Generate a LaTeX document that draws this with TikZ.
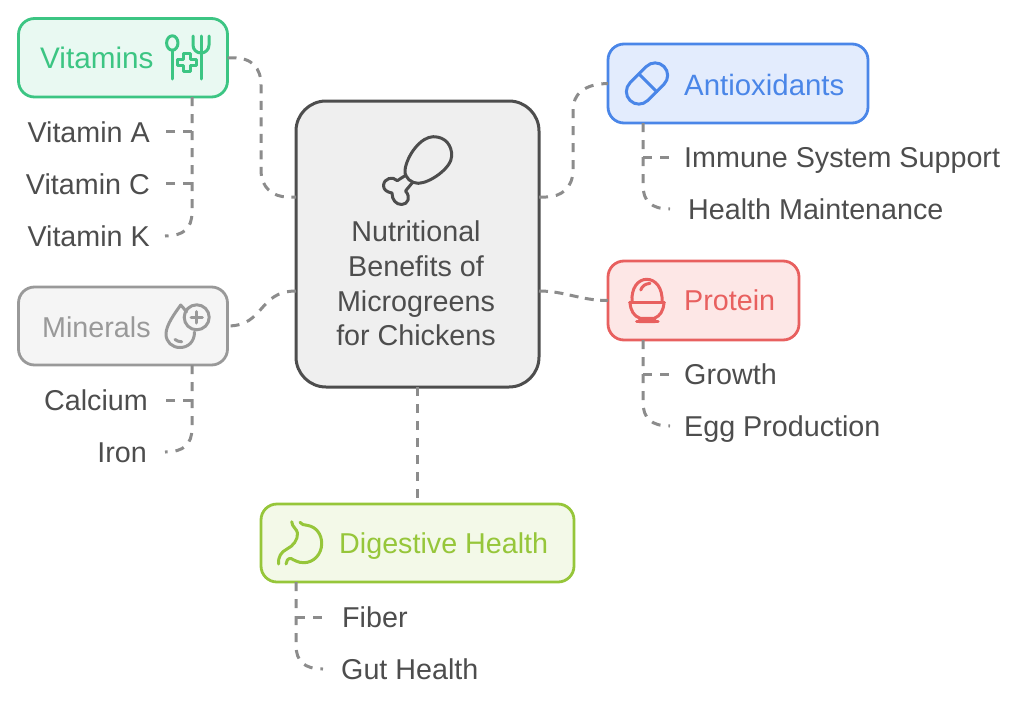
\documentclass[tikz,border=0pt]{standalone}
\usepackage{fontspec}
\setmainfont{Liberation Sans}
\definecolor{txt}{HTML}{4D4D4D}
\definecolor{conn}{HTML}{8C8C8C}
\definecolor{gS}{HTML}{3CC583}\definecolor{gF}{HTML}{E9F9F2}
\definecolor{bS}{HTML}{4A86E8}\definecolor{bF}{HTML}{E3ECFD}
\definecolor{rS}{HTML}{E8605F}\definecolor{rF}{HTML}{FDE7E6}
\definecolor{yS}{HTML}{96C63A}\definecolor{yF}{HTML}{F3F9E8}
\definecolor{mS}{HTML}{999999}\definecolor{mF}{HTML}{F5F5F5}
\definecolor{cS}{HTML}{4D4D4D}\definecolor{cF}{HTML}{EFEFEF}
\tikzset{
 card/.style={draw,line width=2.8pt,rounded corners=16pt,inner sep=0pt,outer sep=0pt,anchor=north west},
 lab/.style={font=\fontsize{28.7}{28.7}\selectfont,inner sep=0pt,text=txt},
 leafR/.style={lab,anchor=base east},
 leafL/.style={lab,anchor=base west},
 head/.style={font=\fontsize{28.7}{28.7}\selectfont,inner sep=0pt,anchor=base west},
 link/.style={draw=conn,line width=3pt,dash pattern=on 9pt off 8pt},
 icon/.style={line width=3pt,line cap=round,line join=round},
}
\begin{document}
\begin{tikzpicture}[x=1pt,y=-1pt]
\useasboundingbox (0,0) rectangle (1024,704);
\node[card,draw=cS,fill=cF,line width=3pt,rounded corners=30pt,minimum width=243pt,minimum height=286pt] (center) at (296,101) {};
\node[card,draw=gS,fill=gF,minimum width=209pt,minimum height=78.5pt] (vit) at (18.5,18.5) {};
\node[card,draw=bS,fill=bF,minimum width=260pt,minimum height=79pt] (ant) at (608,44) {};
\node[card,draw=rS,fill=rF,minimum width=191pt,minimum height=79pt] (pro) at (608,261) {};
\node[card,draw=mS,fill=mF,minimum width=209pt,minimum height=78pt] (min) at (18.5,287) {};
\node[card,draw=yS,fill=yF,minimum width=313pt,minimum height=78pt] (dig) at (261,504) {};
% main links
\coordinate (cL1) at (center.west|-0,197);
\coordinate (cL2) at (center.west|-0,291);
\coordinate (cR1) at (center.east|-0,197);
\coordinate (cR2) at (center.east|-0,291);
\path[link,dash pattern=on 9pt off 7.5pt] (vit.east) -- ++(5,0) .. controls (252,57.5) and (261,68) .. (261,85) -- (261,170) .. controls (261,187) and (272,197) .. (288,197) -- (cL1);
\path[link] (cR1) -- (546,197) .. controls (562,197) and (573,187) .. (573,170) -- (573,110) .. controls (573,94) and (584,84) .. (ant.west);
\path[link,dash pattern=on 9pt off 6.5pt] (cR2) .. controls (565,291) and (580,300.5) .. (pro.west);
\path[link] (cL2) .. controls (258,291) and (265,326) .. (min.east);
\path[link] (center.south) -- (center.south|-dig.north);
% leaves
\node[leafR] (va) at (150,142) {Vitamin A};
\node[leafR] (vc) at (150,194) {Vitamin C};
\node[leafR] (vk) at (150,246) {Vitamin K};
\node[leafR] (ca) at (148,410) {Calcium};
\node[leafR] (ir) at (147,462) {Iron};
\node[leafL] (im) at (684,167) {Immune System Support};
\node[leafL] (hm) at (688,219) {Health Maintenance};
\node[leafL] (gr) at (684,384) {Growth};
\node[leafL] (eg) at (684,436) {Egg Production};
\node[leafL] (fi) at (342,627) {Fiber};
\node[leafL] (gu) at (341,679) {Gut Health};
% leaf link ends
\coordinate (vtop) at (192,97); \coordinate (mtop) at (192,365);
\coordinate (atop) at (643,123); \coordinate (ptop) at (643,340); \coordinate (dtop) at (296,582);
\coordinate (vaE) at (165,131); \coordinate (vcE) at (165,183); \coordinate (vkE) at (165,236);
\coordinate (caE) at (165,400); \coordinate (irE) at (165,452);
\coordinate (imE) at (670,157); \coordinate (hmE) at (670,209);
\coordinate (grE) at (670,374); \coordinate (egE) at (670,426);
\coordinate (fiE) at (323,617); \coordinate (guE) at (323,669);
\path[link] (vtop) -- (192,212) .. controls (192,228) and (184,236) .. (vkE);
\draw[link] (192,131) -- (vaE);
\draw[link] (192,183) -- (vcE);
\path[link] (mtop) -- (192,428) .. controls (192,444) and (184,452) .. (irE);
\draw[link] (192,400) -- (caE);
\path[link] (atop) -- (643,185) .. controls (643,201) and (651,209) .. (hmE);
\draw[link] (643,157) -- (imE);
\path[link] (ptop) -- (643,402) .. controls (643,418) and (651,426) .. (egE);
\draw[link] (643,374) -- (grE);
\path[link] (dtop) -- (296,645) .. controls (296,661) and (304,669) .. (guE);
\draw[link] (296,617) -- (fiE);
% headings
\node[head,text=gS,font=\fontsize{29.7}{29.7}\selectfont] (tv) at (40,68) {Vitamins};
\node[head,text=bS,font=\fontsize{29.4}{29.4}\selectfont] (ta) at (684,95) {Antioxidants};
\node[head,text=rS] (tp) at (684,310) {Protein};
\node[head,text=mS] (tm) at (42,337) {Minerals};
\node[head,text=yS] (td) at (339,553) {Digestive Health};
\node[lab,anchor=base] (t1) at (416,241) {Nutritional};
\node[lab,anchor=base] (t2) at (416,276) {Benefits of};
\node[lab,anchor=base] (t3) at (416,311) {Microgreens};
\node[lab,anchor=base] (t4) at (416,345) {for Chickens};
% icons
\begin{scope}[icon,draw=gS]
 \draw (172.3,43) ellipse (5.7 and 7.2);
 \draw (172.3,50.2) -- (172.3,79);
 \draw (201,36) -- (201,79);
 \draw (193,36) -- (193,45) .. controls (193,50) and (197,53) .. (201,53) .. controls (205,53) and (209,50) .. (209,45) -- (209,36);
 \draw (183,53.5) -- (190,53.5) -- (190,59.5) -- (196.5,59.5) -- (196.5,65.5) -- (190,65.5) -- (190,71.5) -- (183,71.5) -- (183,65.5) -- (177,65.5) -- (177,59.5) -- (183,59.5) -- cycle;
\end{scope}
\begin{scope}[icon,draw=bS]
 \node[draw=bS,line width=3pt,rotate=45,minimum width=48pt,minimum height=25pt,rounded corners=12.5pt,inner sep=0pt,outer sep=0pt] (pill) at (647,83.5) {};
 \draw (640,75) -- (656.7,91.7);
\end{scope}
\begin{scope}[icon,draw=rS]
 \draw (632,302) .. controls (631,288) and (638,279.3) .. (646.7,279.3) .. controls (655.5,279.3) and (663,288) .. (662,302);
 \draw (640.7,290) .. controls (642,286) and (645,284) .. (650,283.3);
 \draw (629.5,302.3) -- (664.3,302.3);
 \draw (630,302.3) .. controls (630.5,311) and (634,316) .. (640,318.3) -- (654.3,318.3) .. controls (660,316) and (663.5,311) .. (664,302.3);
 \draw (640,318.3) -- (639.5,321.7) -- (655,321.7) -- (654.3,318.3);
 \draw (636.5,321.7) -- (658,321.7);
\end{scope}
\begin{scope}[icon,draw=mS]
 \draw (186.5,312) .. controls (184.5,309) and (182.5,307) .. (180.7,305) .. controls (175,313) and (166,325) .. (166,334) .. controls (166,342) and (172,347.5) .. (180,347.5) .. controls (188,347.5) and (194.5,342) .. (194.5,332);
 \draw (175,339.5) .. controls (177,341) and (179,341.7) .. (181.7,341.8);
 \draw (196.7,317.3) circle (12.5);
 \draw (196.7,311.5) -- (196.7,323); \draw (191,317.3) -- (202.4,317.3);
\end{scope}
\begin{scope}[icon,draw=yS]
 \draw (291.7,521.7) .. controls (292,527) and (297,529) .. (297.5,533) .. controls (298,540) and (293,546) .. (287,549) .. controls (281,552) and (278,557) .. (278.5,564);
 \draw (300,522.3) .. controls (301,525) and (304,524.5) .. (308,525.5) .. controls (316,527) and (321.7,534) .. (321.7,543.5) .. controls (321.7,554) and (314,562.5) .. (304,562.7) .. controls (298,562.8) and (294,560) .. (291,558.5) .. controls (288,558) and (286,561) .. (286,564);
\end{scope}
\begin{scope}[draw=cS,icon,line width=3pt]
 \draw (405,170) .. controls (407,155) and (421,136.7) .. (433.3,136.7) .. controls (446,136.7) and (452,146) .. (451.7,156) .. controls (451.5,168) and (430,183) .. (418.3,183.3) .. controls (412,183.5) and (404,178) .. (405,170) -- cycle;
 \draw (406,175) -- (397.3,180.7) .. controls (393,176) and (384,178) .. (383.5,185.5) .. controls (383.5,190) and (387,192) .. (392,193) .. controls (392,200) and (396,204.5) .. (401.7,204.5) .. controls (408,204.5) and (411,197) .. (405.5,191) -- (412.5,182.5);
\end{scope}
\end{tikzpicture}
\end{document}
